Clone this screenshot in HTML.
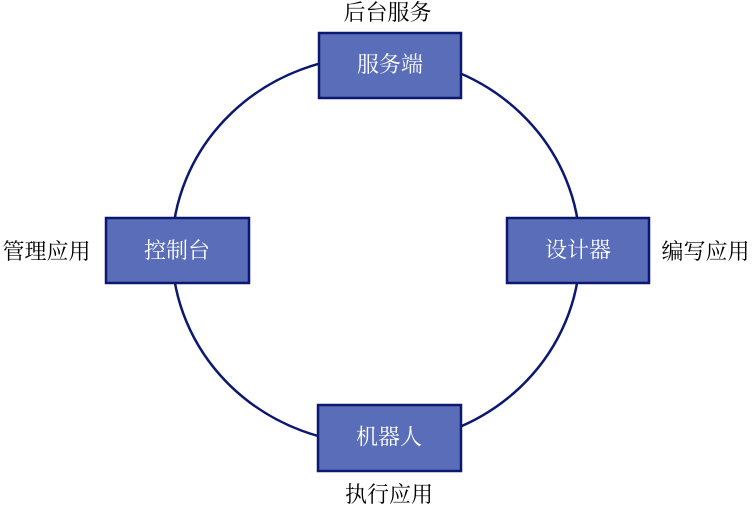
<!DOCTYPE html>
<html>
<head>
<meta charset="utf-8">
<style>
  html, body { margin: 0; padding: 0; background: #ffffff; }
  body { width: 752px; height: 511px; overflow: hidden; }
  svg { display: block; }
  .lbl { font-family: "Noto Serif CJK SC", "Liberation Serif", serif; font-size: 22px; fill: #000000; }
  .box { font-family: "Noto Serif CJK SC", "Liberation Serif", serif; font-size: 22px; fill: #ffffff; }
</style>
</head>
<body>
<svg width="752" height="511" viewBox="0 0 752 511" xmlns="http://www.w3.org/2000/svg">
  <ellipse cx="376" cy="250" rx="204" ry="194" fill="none" stroke="#0b1871" stroke-width="2.5"/>

  <rect x="319" y="33" width="142" height="65" fill="#5a6db8" stroke="#0b1871" stroke-width="2.5"/>
  <rect x="106" y="218" width="143" height="65" fill="#5a6db8" stroke="#0b1871" stroke-width="2.5"/>
  <rect x="507" y="218" width="142" height="65" fill="#5a6db8" stroke="#0b1871" stroke-width="2.5"/>
  <rect x="318" y="405" width="143" height="66" fill="#5a6db8" stroke="#0b1871" stroke-width="2.5"/>

  <text class="box" x="390" y="72" text-anchor="middle">服务端</text>
  <text class="box" x="177" y="258" text-anchor="middle">控制台</text>
  <text class="box" x="578" y="257.5" text-anchor="middle">设计器</text>
  <text class="box" x="389" y="444.5" text-anchor="middle">机器人</text>

  <text class="lbl" x="387.5" y="20" text-anchor="middle">后台服务</text>
  <text class="lbl" x="46.5" y="259" text-anchor="middle">管理应用</text>
  <text class="lbl" x="705.5" y="259" text-anchor="middle">编写应用</text>
  <text class="lbl" x="389" y="502" text-anchor="middle">执行应用</text>
</svg>
</body>
</html>
